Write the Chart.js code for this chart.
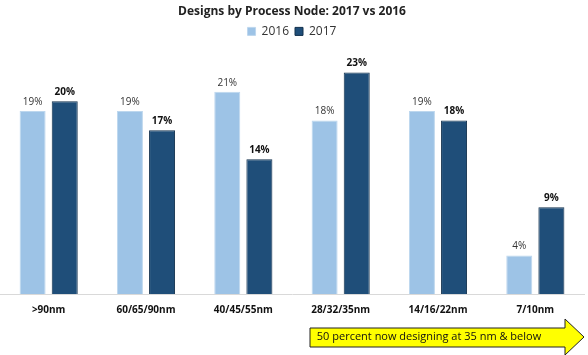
<!DOCTYPE html>
<html>
<head>
<meta charset="utf-8">
<script src="https://cdn.jsdelivr.net/npm/chart.js@4.4.1/dist/chart.umd.min.js"></script>
<style>
html,body{margin:0;padding:0;background:#fff;}
#wrap{width:588px;height:355px;position:relative;}
</style>
</head>
<body>
<div id="wrap"><canvas id="c" width="588" height="355"></canvas></div>
<script>
const categories = [">90nm", "60/65/90nm", "40/45/55nm", "28/32/35nm", "14/16/22nm", "7/10nm"];
const values2016 = [19, 19, 21, 18, 19, 4];
const values2017 = [20, 17, 14, 23, 18, 9];
const seriesNames = ["2016", "2017"];
const chartTitle = "Designs by Process Node: 2017 vs 2016";
const arrowText = "50 percent now designing at 35 nm & below";

const FONT = "'Open Sans', 'Noto Sans', sans-serif";

const labelPlugin = {
  id: 'barLabels',
  afterDatasetsDraw(chart) {
    const ctx = chart.ctx;
    ctx.save();
    chart.data.datasets.forEach((ds, di) => {
      const meta = chart.getDatasetMeta(di);
      meta.data.forEach((bar, i) => {
        ctx.font = (di === 1 ? 'bold ' : '') + '10px ' + FONT;
        ctx.fillStyle = di === 1 ? '#111' : '#333';
        ctx.textAlign = 'center';
        ctx.textBaseline = 'bottom';
        ctx.fillText(ds.data[i] + '%', bar.x, bar.y - 4);
      });
    });
    ctx.restore();
  }
};

const arrowPlugin = {
  id: 'arrow',
  afterDraw(chart) {
    const ctx = chart.ctx;
    const x0 = 310, x1 = 565, tip = 584;
    const yt = 328, yb = 347, ht = 319, hb = 355, ym = 337;
    ctx.save();
    ctx.beginPath();
    ctx.moveTo(x0, yt);
    ctx.lineTo(x1, yt);
    ctx.lineTo(x1, ht);
    ctx.lineTo(tip, ym);
    ctx.lineTo(x1, hb);
    ctx.lineTo(x1, yb);
    ctx.lineTo(x0, yb);
    ctx.closePath();
    ctx.fillStyle = '#ffff00';
    ctx.fill();
    ctx.lineWidth = 1;
    ctx.strokeStyle = '#222';
    ctx.stroke();
    ctx.font = '11px ' + FONT;
    ctx.fillStyle = '#111';
    ctx.textAlign = 'center';
    ctx.textBaseline = 'middle';
    ctx.fillText(arrowText, 429, ym);
    ctx.restore();
  }
};

new Chart(document.getElementById('c'), {
  type: 'bar',
  data: {
    labels: categories,
    datasets: [
      { label: seriesNames[0], data: values2016, backgroundColor: '#9dc3e6', borderColor: '#bdd7ee', borderWidth: 1 },
      { label: seriesNames[1], data: values2017, backgroundColor: '#1f4e79', borderColor: '#12304d', borderWidth: 1 }
    ]
  },
  options: {
    responsive: false,
    animation: false,
    devicePixelRatio: 1,
    categoryPercentage: 0.66,
    barPercentage: 0.81,
    layout: { padding: { left: 0, right: 4, top: 2, bottom: 37 } },
    plugins: {
      title: { display: true, text: chartTitle, color: '#222', font: { family: FONT, size: 12, weight: 'bold' }, padding: { top: 2, bottom: 1 } },
      legend: {
        display: true,
        labels: { boxWidth: 8, boxHeight: 8, color: '#333', font: { family: FONT, size: 12 }, padding: 6 }
      },
      tooltip: { enabled: false }
    },
    scales: {
      y: { display: false, min: 0, max: 25.6 },
      x: {
        grid: { display: false },
        border: { color: '#d9d9d9', width: 1 },
        ticks: { color: '#111', font: { family: FONT, size: 10, weight: 'bold' }, padding: 2 }
      }
    }
  },
  plugins: [labelPlugin, arrowPlugin]
});
</script>
</body>
</html>
